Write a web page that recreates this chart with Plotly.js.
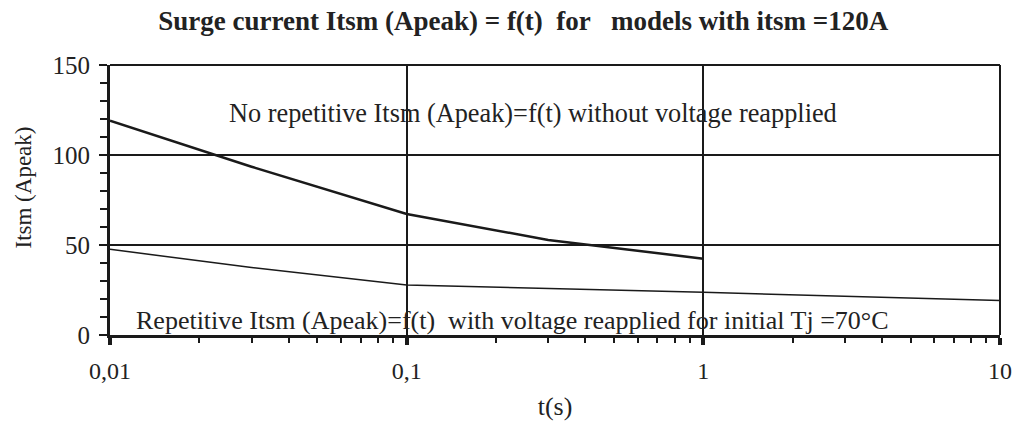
<!DOCTYPE html>
<html><head><meta charset="utf-8">
<script src="https://cdn.plot.ly/plotly-3.0.1.min.js"></script>
<style>body{margin:0;background:#fff}#c{width:1022px;height:421px}</style>
</head><body><div id="c"></div>
<script>
const tNoRep = [0.01, 0.03, 0.1, 0.3, 1];
const iNoRep = [119, 93.5, 67.2, 52.8, 42.4];
const tRep = [0.01, 0.03, 0.1, 1, 10];
const iRep = [47.6, 37.5, 27.8, 23.7, 19.1];
const xTickVals = [0.01, 0.1, 1, 10];
const xTickText = ["0,01", "0,1", "1", "10"];
const yTickVals = [0, 50, 100, 150];

const serif = "Liberation Serif, Times New Roman, serif";
const ink = "#1a1a1a";
const txt = "#222";
const traces = [
  {x: tNoRep, y: iNoRep, mode: "lines", line: {color: ink, width: 2.5}, hoverinfo: "skip"},
  {x: tRep, y: iRep, mode: "lines", line: {color: ink, width: 1.5}, hoverinfo: "skip"}
];
const layout = {
  width: 1022, height: 421,
  margin: {l: 110, r: 22, t: 65, b: 86},
  paper_bgcolor: "#fff", plot_bgcolor: "#fff",
  showlegend: false,
  font: {family: serif, color: txt, size: 24},
  title: {text: "Surge current Itsm (Apeak) = f(t)\u00a0 for\u00a0\u00a0 models with itsm =120A",
          font: {family: serif, size: 27, color: txt, weight: "bold"},
          x: 0.512, xanchor: "center", y: 0.952, yanchor: "middle"},
  xaxis: {type: "log", range: [-2, 1], tickvals: xTickVals, ticktext: xTickText,
          showline: true, linewidth: 3, linecolor: ink,
          ticks: "outside", ticklen: 7, tickwidth: 4, tickcolor: ink, ticklabelstandoff: 5,
          showgrid: true, gridcolor: ink, gridwidth: 2,
          minor: {dtick: "D1", ticks: "outside", ticklen: 5, tickwidth: 2, tickcolor: ink, showgrid: false},
          tickfont: {family: serif, size: 24, color: txt},
          title: {text: "t(s)", font: {family: serif, size: 26, color: txt}, standoff: 25},
          zeroline: false, fixedrange: true},
  yaxis: {range: [0, 150], tickvals: yTickVals,
          showline: true, linewidth: 3, linecolor: ink,
          ticks: "outside", ticklen: 8, tickwidth: 2, tickcolor: ink, ticklabelstandoff: 4,
          showgrid: true, gridcolor: ink, gridwidth: 2,
          minor: {dtick: 10, ticks: "outside", ticklen: 7, tickwidth: 2, tickcolor: ink, showgrid: false},
          tickfont: {family: serif, size: 25, color: txt},
          zeroline: false, fixedrange: true},
  shapes: [
    {type: "line", xref: "paper", yref: "paper", x0: 0, x1: 1, y0: 1, y1: 1, line: {color: ink, width: 2}},
    {type: "line", xref: "paper", yref: "paper", x0: 1, x1: 1, y0: 0, y1: 1, line: {color: ink, width: 2}}
  ],
  annotations: [
    {text: "Itsm (Apeak)", xref: "paper", yref: "paper", textangle: -90,
     x: -0.097, y: 0.545, xanchor: "center", yanchor: "middle", showarrow: false,
     font: {family: serif, size: 23, color: txt}},
    {text: "No repetitive Itsm (Apeak)=f(t) without voltage reapplied", xref: "paper", yref: "paper",
     x: 0.475, y: 0.822, xanchor: "center", yanchor: "middle", showarrow: false,
     font: {family: serif, size: 26.3, color: txt}},
    {text: "Repetitive Itsm (Apeak)=f(t)\u00a0 with voltage reapplied for initial Tj =70°C", xref: "paper", yref: "paper",
     x: 0.027, y: 0.052, xanchor: "left", yanchor: "middle", showarrow: false,
     font: {family: serif, size: 26, color: txt}}
  ]
};
Plotly.newPlot("c", traces, layout, {staticPlot: true, displayModeBar: false});
</script></body></html>
